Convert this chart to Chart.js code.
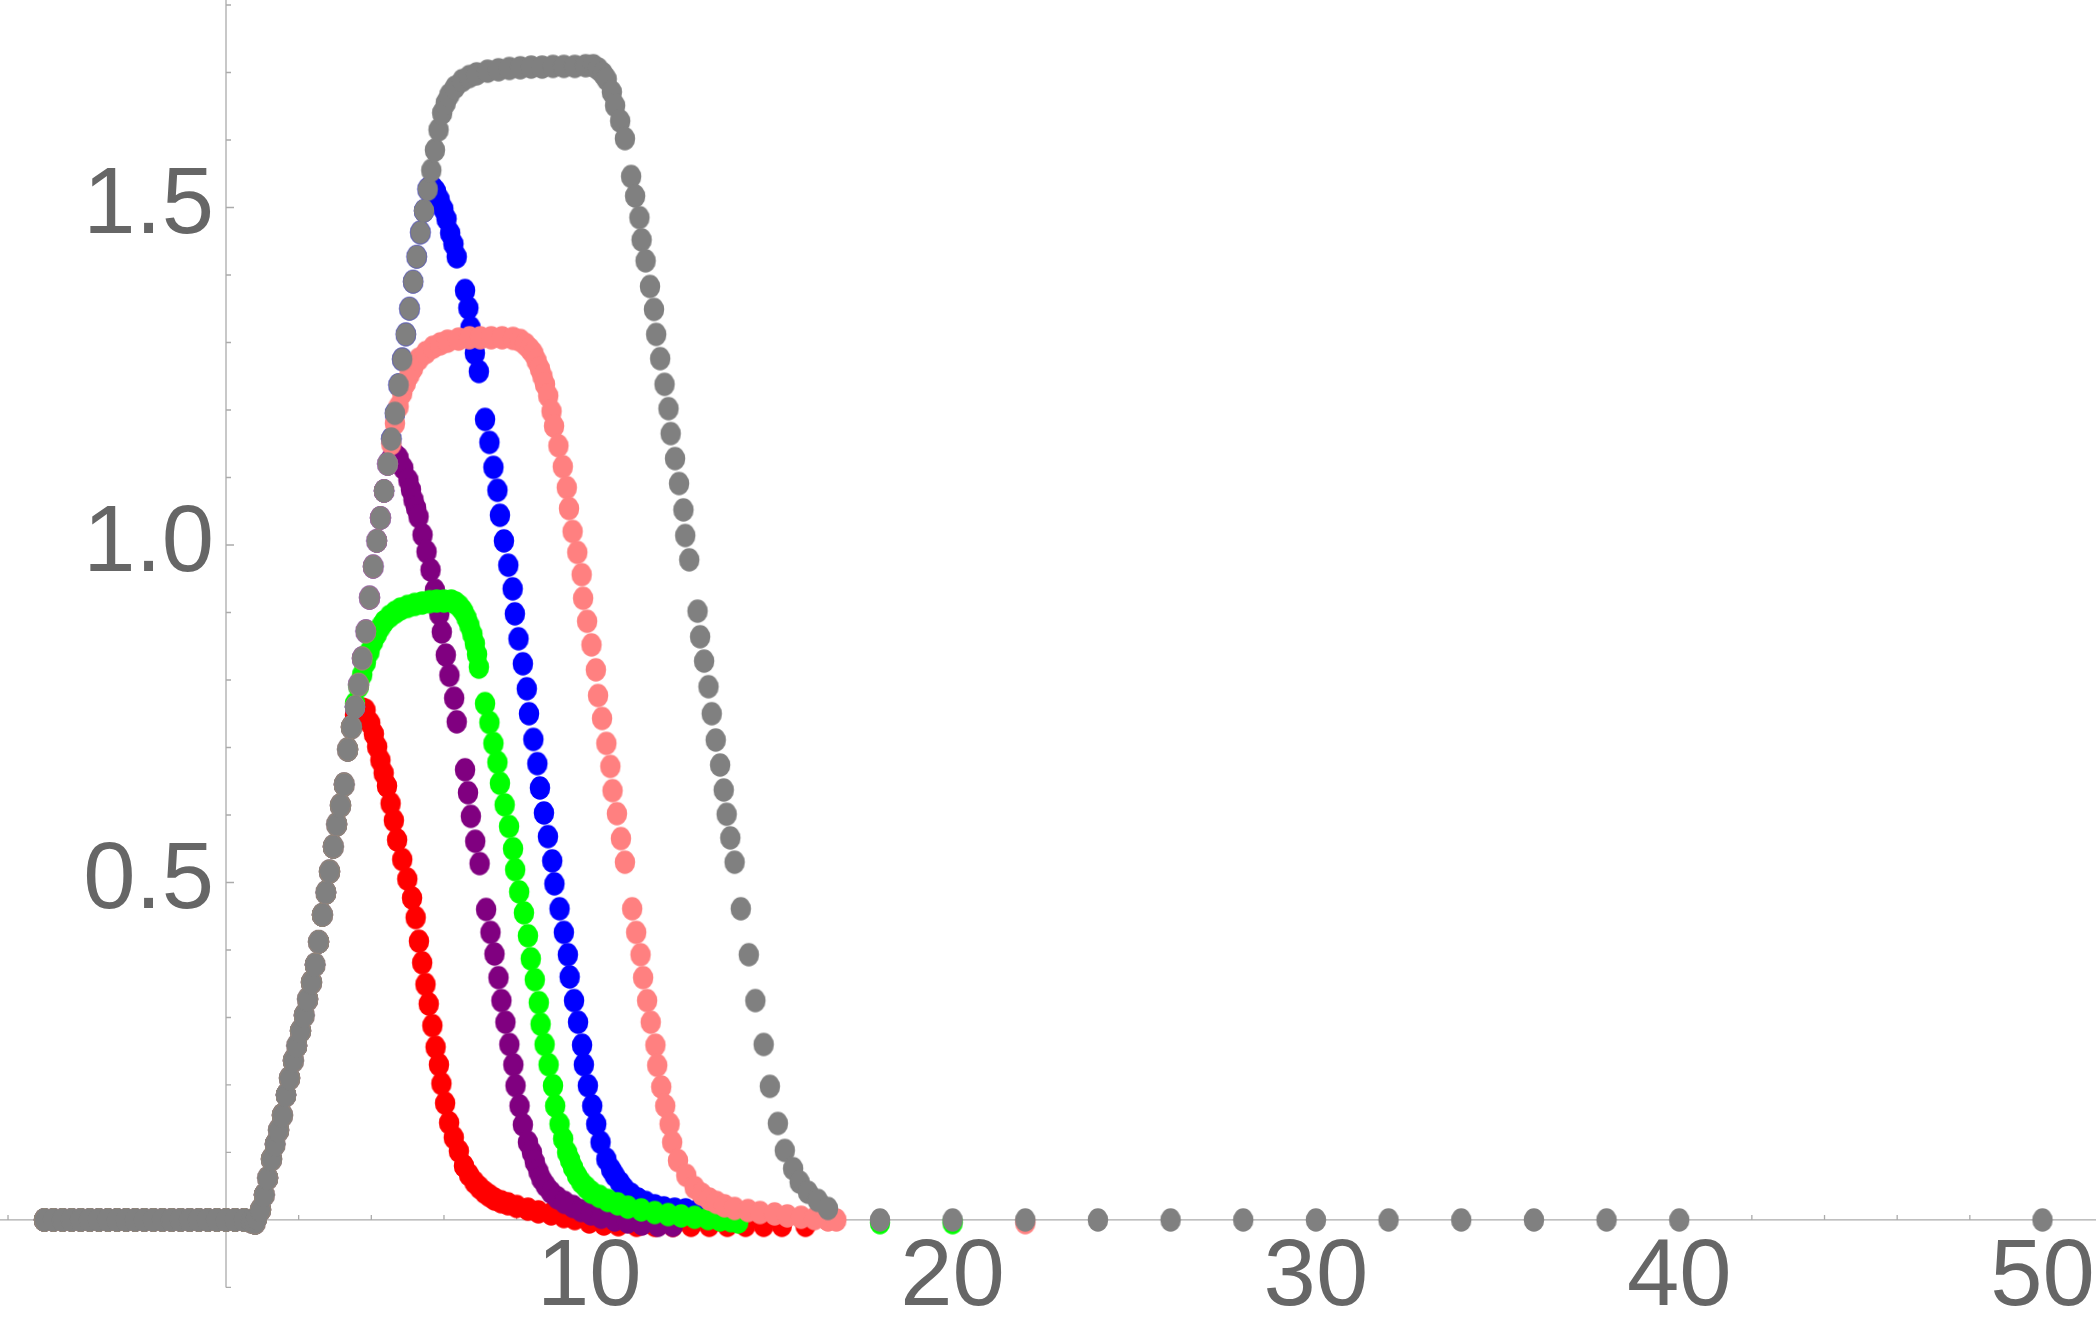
<!DOCTYPE html>
<html>
<head>
<meta charset="utf-8">
<script src="https://cdn.jsdelivr.net/npm/chart.js@4.4.1/dist/chart.umd.min.js"></script>
<style>
  html, body { margin: 0; padding: 0; background: #ffffff; }
  #wrap { width: 2096px; height: 1336px; }
</style>
</head>
<body>
<div id="wrap"><canvas id="c" width="2096" height="1336"></canvas></div>
<script>
// ---------------- data ----------------
// flat start shared by every series (y = 0 before the rise)
const baseline = [[-5,0],[-4.75,0],[-4.5,0],[-4.25,0],[-4,0],[-3.75,0],[-3.5,0],[-3.25,0],[-3,0],[-2.75,0],[-2.5,0],[-2.25,0],[-2,0],[-1.75,0],[-1.5,0],[-1.25,0],[-1,0],[-0.75,0],[-0.5,0],[-0.25,0],[0,0],[0.25,0],[0.5,0],[0.7,-0.002],[0.8,-0.004]];

// common rising branch (all series follow it until they split off)
const rise = [[0.85,0.003],[0.95,0.015],[1.05,0.037],[1.15,0.062],[1.25,0.09],[1.35,0.112],[1.45,0.133],[1.55,0.155],[1.65,0.185],[1.75,0.21],[1.85,0.236],[1.95,0.258],[2.05,0.28],[2.15,0.303],[2.25,0.327],[2.35,0.352],[2.45,0.378],[2.55,0.412],[2.65,0.452],[2.75,0.485],[2.85,0.516],[2.95,0.553],[3.05,0.586],[3.15,0.614],[3.25,0.645],[3.35,0.697],[3.45,0.73],[3.55,0.76],[3.65,0.793],[3.75,0.832],[3.85,0.872],[3.95,0.922],[4.05,0.968],[4.15,1.006],[4.25,1.04],[4.35,1.08],[4.45,1.12],[4.55,1.157],[4.65,1.195],[4.75,1.237],[4.85,1.275],[4.95,1.312],[5.05,1.35],[5.15,1.39],[5.25,1.427],[5.35,1.463],[5.45,1.495],[5.55,1.527],[5.65,1.555],[5.75,1.585],[5.85,1.615],[5.95,1.64],[6.05,1.655],[6.15,1.667],[6.3,1.678],[6.5,1.688],[6.7,1.694],[6.9,1.698],[7.2,1.702],[7.5,1.704],[7.8,1.706]];

const grayOwn = [[8.1,1.707],[8.4,1.708],[8.7,1.708],[9.0,1.709],[9.3,1.709],[9.6,1.709],[9.9,1.71],[10.11,1.71],[10.25,1.705],[10.38,1.698],[10.48,1.69],[10.62,1.671],[10.71,1.651],[10.85,1.628],[10.98,1.602],[11.15,1.546],[11.26,1.517],[11.38,1.485],[11.44,1.452],[11.55,1.421],[11.67,1.383],[11.78,1.349],[11.84,1.312],[11.95,1.276],[12.07,1.238],[12.18,1.202],[12.24,1.165],[12.36,1.128],[12.47,1.091],[12.59,1.052],[12.64,1.014],[12.75,0.978],[12.98,0.902],[13.05,0.864],[13.16,0.828],[13.28,0.79],[13.37,0.75],[13.48,0.711],[13.6,0.674],[13.7,0.637],[13.78,0.601],[13.88,0.566],[14.0,0.53],[14.17,0.461],[14.39,0.393],[14.57,0.325],[14.8,0.26],[14.97,0.198],[15.19,0.143],[15.38,0.103],[15.61,0.076],[15.79,0.056],[16.02,0.041],[16.29,0.029],[16.57,0.017]];
const grayTail = [[18,0],[20,0],[22,0],[24,0],[26,0],[28,0],[30,0],[32,0],[34,0],[36,0],[38,0],[40,0],[50,0]];

const pinkOwn = [[4.55,1.15],[4.65,1.18],[4.75,1.205],[4.85,1.225],[4.95,1.24],[5.05,1.252],[5.15,1.262],[5.3,1.275],[5.5,1.285],[5.7,1.293],[5.9,1.298],[6.1,1.302],[6.4,1.305],[6.7,1.307],[7.0,1.307],[7.3,1.307],[7.6,1.307],[7.9,1.306],[8.1,1.303],[8.25,1.297],[8.37,1.29],[8.46,1.284],[8.55,1.273],[8.64,1.261],[8.71,1.25],[8.78,1.238],[8.87,1.221],[8.96,1.198],[9.03,1.176],[9.15,1.147],[9.27,1.116],[9.38,1.085],[9.44,1.054],[9.54,1.02],[9.67,0.989],[9.79,0.956],[9.83,0.921],[9.94,0.887],[10.06,0.852],[10.18,0.815],[10.24,0.777],[10.35,0.743],[10.47,0.706],[10.58,0.672],[10.64,0.636],[10.76,0.602],[10.87,0.565],[10.98,0.53],[11.18,0.461],[11.29,0.426],[11.41,0.393],[11.48,0.359],[11.59,0.325],[11.69,0.293],[11.82,0.259],[11.87,0.229],[11.98,0.197],[12.09,0.169],[12.21,0.142],[12.28,0.115],[12.44,0.088],[12.67,0.066],[12.9,0.048],[13.1,0.038],[13.3,0.031],[13.5,0.026],[13.72,0.021],[14.0,0.017],[14.37,0.014],[14.7,0.011],[15.1,0.009],[15.45,0.006],[15.83,0.004],[16.2,0.002],[16.57,0],[16.8,0]];
const pinkTail = [[22,-0.004]];

const blueOwn = [[5.62,1.53],[5.7,1.529],[5.78,1.524],[5.88,1.512],[5.98,1.498],[6.07,1.483],[6.17,1.462],[6.26,1.446],[6.35,1.427],[6.58,1.377],[6.67,1.351],[6.73,1.322],[6.85,1.284],[6.96,1.257],[7.13,1.186],[7.25,1.152],[7.36,1.115],[7.47,1.081],[7.54,1.044],[7.65,1.006],[7.77,0.97],[7.89,0.935],[7.95,0.898],[8.05,0.861],[8.17,0.824],[8.28,0.787],[8.34,0.75],[8.46,0.712],[8.57,0.676],[8.64,0.64],[8.75,0.603],[8.86,0.568],[8.98,0.532],[9.04,0.498],[9.18,0.461],[9.3,0.426],[9.41,0.393],[9.46,0.36],[9.58,0.325],[9.69,0.293],[9.8,0.259],[9.85,0.23],[9.96,0.199],[10.08,0.169],[10.19,0.142],[10.31,0.115],[10.47,0.09],[10.6,0.075],[10.7,0.066],[10.85,0.055],[10.97,0.046],[11.15,0.038],[11.34,0.031],[11.55,0.026],[11.8,0.021],[12.05,0.018],[12.35,0.016],[12.65,0.015],[12.99,0.014],[13.3,0.012],[13.6,0.01]];

const purpleOwn = [[4.55,1.128],[4.65,1.134],[4.75,1.129],[4.88,1.114],[5.02,1.096],[5.09,1.082],[5.16,1.067],[5.23,1.055],[5.3,1.042],[5.41,1.015],[5.52,0.99],[5.63,0.963],[5.75,0.933],[5.87,0.898],[5.94,0.871],[6.05,0.837],[6.15,0.807],[6.28,0.773],[6.35,0.738],[6.58,0.667],[6.66,0.633],[6.74,0.598],[6.86,0.561],[6.98,0.528],[7.16,0.46],[7.28,0.426],[7.39,0.394],[7.5,0.359],[7.58,0.325],[7.69,0.293],[7.8,0.26],[7.91,0.23],[7.97,0.199],[8.08,0.169],[8.17,0.141],[8.31,0.115],[8.42,0.1],[8.5,0.086],[8.6,0.072],[8.68,0.061],[8.8,0.051],[8.95,0.041],[9.12,0.033],[9.32,0.026],[9.55,0.02],[9.78,0.014],[10.05,0.009],[10.33,0.004],[10.7,0],[11.06,-0.003],[11.45,-0.006],[11.89,-0.008],[12.3,-0.008]];

const greenOwn = [[3.55,0.765],[3.65,0.79],[3.75,0.808],[3.85,0.826],[3.95,0.842],[4.05,0.857],[4.15,0.868],[4.25,0.878],[4.35,0.886],[4.5,0.894],[4.65,0.9],[4.8,0.905],[5.0,0.909],[5.2,0.912],[5.4,0.914],[5.6,0.916],[5.8,0.917],[6.0,0.917],[6.2,0.917],[6.32,0.914],[6.43,0.909],[6.53,0.902],[6.62,0.892],[6.7,0.881],[6.78,0.868],[6.85,0.854],[6.91,0.838],[6.96,0.819],[7.13,0.765],[7.25,0.737],[7.36,0.706],[7.47,0.678],[7.54,0.647],[7.67,0.615],[7.79,0.583],[7.9,0.55],[7.96,0.519],[8.07,0.486],[8.2,0.455],[8.31,0.421],[8.39,0.387],[8.5,0.356],[8.61,0.322],[8.66,0.29],[8.77,0.26],[8.88,0.23],[9.0,0.199],[9.06,0.169],[9.18,0.142],[9.28,0.12],[9.39,0.1],[9.47,0.089],[9.55,0.078],[9.66,0.066],[9.78,0.056],[9.92,0.048],[10.06,0.041],[10.28,0.035],[10.51,0.029],[10.78,0.024],[11.06,0.019],[11.43,0.015],[11.8,0.011],[12.17,0.008],[12.53,0.006],[12.9,0.004],[13.27,0.002],[13.6,0],[13.9,-0.001],[14.1,-0.003]];
const greenTail = [[18,-0.004],[20,-0.004]];

const redOwn = [[3.55,0.748],[3.65,0.755],[3.75,0.757],[3.84,0.755],[3.97,0.736],[4.07,0.72],[4.16,0.701],[4.25,0.681],[4.34,0.662],[4.43,0.643],[4.53,0.617],[4.62,0.592],[4.71,0.563],[4.85,0.534],[4.99,0.505],[5.12,0.477],[5.22,0.448],[5.31,0.413],[5.4,0.381],[5.49,0.349],[5.58,0.32],[5.68,0.288],[5.77,0.256],[5.86,0.23],[5.93,0.202],[6.03,0.173],[6.14,0.144],[6.27,0.122],[6.41,0.102],[6.55,0.08],[6.69,0.067],[6.84,0.056],[6.98,0.048],[7.12,0.041],[7.25,0.036],[7.39,0.031],[7.57,0.027],[7.76,0.024],[8.0,0.02],[8.31,0.016],[8.6,0.012],[8.95,0.009],[9.3,0.005],[9.6,0.002],[10.0,-0.003],[10.4,-0.006],[10.8,-0.007],[11.3,-0.008],[11.8,-0.008],[12.3,-0.008],[12.8,-0.008],[13.3,-0.008],[13.8,-0.008],[14.3,-0.008],[14.8,-0.008],[15.3,-0.008],[15.95,-0.008]];

// split points where each series leaves the common rising branch
const splitX = { red: 3.45, green: 3.45, purple: 4.45, pink: 4.45, blue: 5.55, gray: 99 };

// axis ticks / labels
const xLabelValues = [10, 20, 30, 40, 50];
const xTickValues = [-6,-4,-2,2,4,6,8,10,12,14,16,18,20,22,24,26,28,30,32,34,36,38,40,42,44,46,48,50];
const xMajorTicks = [10, 20, 30, 40, 50];
const yLabelValues = [0.5, 1.0, 1.5];
const yTickValues = [-0.1,0.1,0.2,0.3,0.4,0.5,0.6,0.7,0.8,0.9,1.0,1.1,1.2,1.3,1.4,1.5,1.6,1.7,1.8];
const yMajorTicks = [0.5, 1.0, 1.5];

// ---------------- build ----------------
const toXY = arr => arr.map(([x, y]) => ({ x, y }));
const riseUpTo = lim => rise.filter(p => p[0] <= lim);

const series = [
  { name: 'gray',   color: '#808080', pts: [...baseline, ...riseUpTo(splitX.gray), ...grayOwn, ...grayTail] },
  { name: 'pink',   color: '#ff8080', pts: [...baseline, ...riseUpTo(splitX.pink), ...pinkOwn, ...pinkTail] },
  { name: 'green',  color: '#00ff00', pts: [...baseline, ...riseUpTo(splitX.green), ...greenOwn, ...greenTail] },
  { name: 'blue',   color: '#0000ff', pts: [...baseline, ...riseUpTo(splitX.blue), ...blueOwn] },
  { name: 'purple', color: '#800080', pts: [...baseline, ...riseUpTo(splitX.purple), ...purpleOwn] },
  { name: 'red',    color: '#ff0000', pts: [...baseline, ...riseUpTo(splitX.red), ...redOwn] }
];

const AXIS_COLOR = '#ababab';
const LABEL_COLOR = '#666666';
const DOT_R = 11;            // used by the library for the plot-area inset
const DOT_W = 20.5, DOT_H = 23.5; // marker ellipse as it appears in the picture
// axis ranges chosen so the plot area (inset by the dot radius) matches the picture
const X_MIN = -5.918, X_MAX = 51.17, Y_MIN = -0.1556, Y_MAX = 1.7911;
const X_AXIS_FROM = -6.25, X_AXIS_TO = 51.5, Y_AXIS_FROM = -0.1, Y_AXIS_TO = 1.81;

function markerFor(color) {
  const c = document.createElement('canvas');
  c.width = 26; c.height = 28;
  const g = c.getContext('2d');
  g.fillStyle = color;
  g.beginPath();
  g.ellipse(c.width / 2, c.height / 2, DOT_W / 2, DOT_H / 2, 0, 0, Math.PI * 2);
  g.fill();
  return c;
}

const near = (a, list) => list.some(v => Math.abs(v - a) < 1e-9);

const axisDecor = {
  id: 'axisDecor',
  beforeDatasetsDraw(chart) {
    const { ctx, scales } = chart;
    const xs = scales.x, ys = scales.y;
    const x0 = xs.getPixelForValue(0);
    const y0 = ys.getPixelForValue(0);
    ctx.save();
    ctx.strokeStyle = AXIS_COLOR;
    ctx.lineWidth = 1.3;
    ctx.beginPath();
    ctx.moveTo(xs.getPixelForValue(X_AXIS_FROM), y0);
    ctx.lineTo(xs.getPixelForValue(X_AXIS_TO), y0);
    ctx.moveTo(x0, ys.getPixelForValue(Y_AXIS_FROM));
    ctx.lineTo(x0, ys.getPixelForValue(Y_AXIS_TO));
    yTickValues.forEach(v => {
      const p = ys.getPixelForValue(v);
      const len = near(v, yMajorTicks) ? 8 : 5;
      ctx.moveTo(x0, p);
      ctx.lineTo(x0 + len, p);
    });
    xTickValues.forEach(v => {
      const p = xs.getPixelForValue(v);
      const len = near(v, xMajorTicks) ? 8 : 5;
      ctx.moveTo(p, y0);
      ctx.lineTo(p, y0 - len);
    });
    ctx.stroke();
    ctx.restore();
  }
};

const FONT_FAMILY = '"Liberation Sans", Arial, Helvetica, sans-serif';
const FONT_SIZE = 94;

new Chart(document.getElementById('c'), {
  type: 'scatter',
  data: {
    datasets: series.map((s, i) => ({
      label: s.name,
      data: toXY(s.pts),
      backgroundColor: s.color,
      borderColor: s.color,
      borderWidth: 0,
      pointStyle: markerFor(s.color),
      pointRadius: DOT_R,
      pointHoverRadius: DOT_R,
      showLine: false,
      order: i
    }))
  },
  options: {
    responsive: false,
    animation: false,
    devicePixelRatio: 1,
    layout: { padding: 0 },
    plugins: { legend: { display: false }, tooltip: { enabled: false } },
    events: [],
    scales: {
      x: {
        type: 'linear',
        min: X_MIN, max: X_MAX,
        position: { y: 0 },
        afterBuildTicks: scale => { scale.ticks = xLabelValues.map(v => ({ value: v })); },
        grid: { display: false, drawTicks: false },
        border: { display: false },
        ticks: {
          autoSkip: false, maxRotation: 0, minRotation: 0,
          padding: 0,
          color: LABEL_COLOR,
          font: { family: FONT_FAMILY, size: FONT_SIZE, lineHeight: 1.26 },
          callback: v => String(v)
        }
      },
      y: {
        type: 'linear',
        min: Y_MIN, max: Y_MAX,
        position: { x: 0 },
        grid: { display: false, drawTicks: false },
        border: { display: false },
        ticks: { display: false }
      },
      yl: {
        type: 'linear',
        axis: 'y',
        min: Y_MIN, max: Y_MAX,
        position: { x: -0.33 },
        afterBuildTicks: scale => { scale.ticks = yLabelValues.map(v => ({ value: v })); },
        grid: { display: false, drawTicks: false },
        border: { display: false },
        ticks: {
          autoSkip: false,
          color: LABEL_COLOR,
          font: { family: FONT_FAMILY, size: FONT_SIZE, lineHeight: 0.01 },
          padding: 0,
          callback: v => Number(v).toFixed(1)
        }
      }
    }
  },
  plugins: [axisDecor]
});
</script>
</body>
</html>
